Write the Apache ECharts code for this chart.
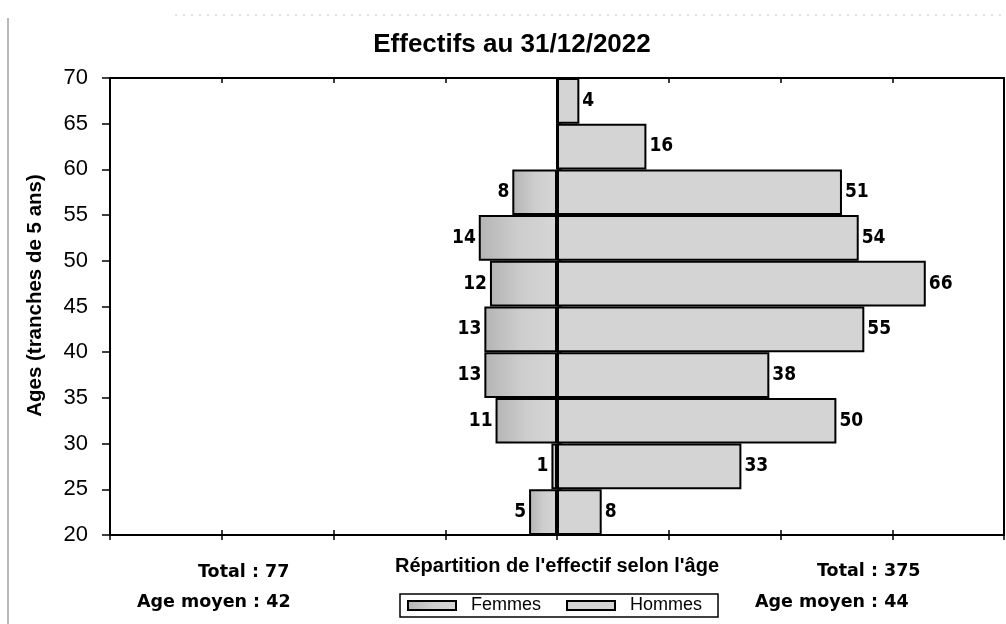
<!DOCTYPE html>
<html>
<head>
<meta charset="utf-8">
<script src="https://cdn.jsdelivr.net/npm/echarts@6/dist/echarts.min.js"></script>
<style>
  html, body { margin: 0; padding: 0; background: #fff; }
  #chart { width: 1006px; height: 624px; }
</style>
</head>
<body>
<div id="chart"></div>
<script>
// Age bands (5-year slices), bottom to top
const ageBands = ['20-25', '25-30', '30-35', '35-40', '40-45', '45-50', '50-55', '55-60', '60-65', '65-70'];
// Head count per band
const femmes = [5, 1, 11, 13, 13, 12, 14, 8, 0, 0];
const hommes = [8, 33, 50, 38, 55, 66, 54, 51, 16, 4];
// Average age: [femmes, hommes]
const ageMoyen = [42, 44];
// Age axis tick range
const ageTicks = [20, 25, 30, 35, 40, 45, 50, 55, 60, 65, 70];

const sum = arr => arr.reduce((a, b) => a + b, 0);

const chart = echarts.init(document.getElementById('chart'), null, { renderer: 'canvas' });

const black = '#000';
const valueFont = { fontFamily: '"DejaVu Sans Condensed", "DejaVu Sans"', fontWeight: 'bold', fontSize: 19, color: black };
const noteFont = 'bold 17.5px "DejaVu Sans"';

const gridLeft = 110, gridRight = 2, gridTop = 78, gridBottom = 89;

const femmesFill = new echarts.graphic.LinearGradient(0, 0, 1, 0, [
  { offset: 0, color: '#b4b4b4' },
  { offset: 0.5, color: '#cdcdcd' },
  { offset: 1, color: '#d6d6d6' }
]);
const hommesFill = '#d4d4d4';

const yMin = ageTicks[0], yMax = ageTicks[ageTicks.length - 1], yStep = ageTicks[1] - ageTicks[0];

chart.setOption({
  animation: false,
  backgroundColor: '#fff',
  grid: { left: gridLeft, right: gridRight, top: gridTop, bottom: gridBottom, containLabel: false },
  legend: {
    left: 400,
    top: 594,
    data: ['Femmes', 'Hommes'],
    itemWidth: 48,
    itemHeight: 9,
    itemGap: 25,
    padding: [2, 16, 2, 7],
    borderColor: black,
    borderWidth: 1.5,
    borderRadius: 0,
    icon: 'rect',
    textStyle: { fontFamily: 'Liberation Sans', fontSize: 18, lineHeight: 19, color: black, padding: [0, 0, 0, 10] }
  },
  xAxis: [
    {
      type: 'value', min: -80, max: 80, interval: 20, position: 'bottom',
      axisLine: { show: true, onZero: false, lineStyle: { color: black, width: 2 } },
      axisTick: { show: true, length: 5, lineStyle: { color: black, width: 1.5 } },
      axisLabel: { show: false },
      splitLine: { show: false },
      name: "Répartition de l'effectif selon l'âge",
      nameLocation: 'middle',
      nameGap: 21,
      nameTextStyle: { fontFamily: 'Liberation Sans', fontWeight: 'bold', fontSize: 20, color: black }
    },
    {
      type: 'value', min: -80, max: 80, interval: 20, position: 'bottom',
      axisLine: { show: false },
      axisTick: { show: true, inside: true, length: 5, lineStyle: { color: black, width: 1.5 } },
      axisLabel: { show: false },
      splitLine: { show: false }
    },
    {
      type: 'value', min: -80, max: 80, interval: 20, position: 'top',
      axisLine: { show: true, onZero: false, lineStyle: { color: black, width: 2 } },
      axisTick: { show: true, inside: true, length: 5, lineStyle: { color: black, width: 1.5 } },
      axisLabel: { show: false },
      splitLine: { show: false }
    }
  ],
  yAxis: [
    {
      type: 'category', data: ageBands, show: false
    },
    {
      type: 'value', min: yMin, max: yMax, interval: yStep, position: 'left',
      axisLine: { show: true, onZero: false, lineStyle: { color: black, width: 2 } },
      axisTick: { show: true, length: 8, lineStyle: { color: black, width: 1.5 } },
      axisLabel: { fontFamily: 'Liberation Sans', fontSize: 22, color: black, margin: 22 },
      splitLine: { show: false },
      name: 'Ages (tranches de 5 ans)',
      nameLocation: 'middle',
      nameRotate: 90,
      nameGap: 64,
      nameTextStyle: { fontFamily: 'Liberation Sans', fontWeight: 'bold', fontSize: 20.5, color: black, padding: [0, 0, 0, 22] }
    },
    {
      type: 'value', min: yMin, max: yMax, interval: yStep, position: 'left',
      axisLine: { show: false },
      axisTick: { show: true, inside: true, length: 5, lineStyle: { color: black, width: 1.5 } },
      axisLabel: { show: false },
      splitLine: { show: false }
    },
    {
      type: 'value', min: yMin, max: yMax, interval: yStep, position: 'right',
      axisLine: { show: true, onZero: false, lineStyle: { color: black, width: 2 } },
      axisTick: { show: false },
      axisLabel: { show: false },
      splitLine: { show: false }
    }
  ],
  series: [
    {
      name: 'Femmes',
      type: 'bar',
      xAxisIndex: 0,
      yAxisIndex: 0,
      data: femmes.map(v => -v),
      barWidth: '100%',
      barGap: '-100%',
      barCategoryGap: 0,
      itemStyle: { color: femmesFill, borderColor: black, borderWidth: 2 },
      label: {
        show: true,
        position: 'left',
        distance: 3,
        ...valueFont,
        formatter: p => (p.value === 0 ? '' : String(Math.abs(p.value)))
      }
    },
    {
      name: 'Hommes',
      type: 'bar',
      xAxisIndex: 0,
      yAxisIndex: 0,
      data: hommes,
      barWidth: '100%',
      barGap: '-100%',
      barCategoryGap: 0,
      itemStyle: { color: hommesFill, borderColor: black, borderWidth: 2 },
      label: {
        show: true,
        position: 'right',
        distance: 3,
        ...valueFont,
        formatter: p => (p.value === 0 ? '' : String(p.value))
      }
    }
  ],
  graphic: [
    // chart title
    { type: 'text', x: 512, y: 45, style: { text: 'Effectifs au 31/12/2022', font: 'bold 26px "Liberation Sans"', fill: black, textAlign: 'center', textVerticalAlign: 'middle' } },
    // page edge rule on the left
    { type: 'line', shape: { x1: 8, y1: 18, x2: 8, y2: 624 }, style: { stroke: '#8a8a8a', lineWidth: 1.2 } },
    { type: 'line', shape: { x1: 175, y1: 15, x2: 1006, y2: 15 }, style: { stroke: '#c8c8c8', lineWidth: 1, lineDash: [2, 6] } },
    // totals and averages under each half
    { type: 'text', x: 198, y: 572, style: { text: 'Total : ' + sum(femmes), font: noteFont, fill: black, textVerticalAlign: 'middle' } },
    { type: 'text', x: 137, y: 602, style: { text: 'Age moyen : ' + ageMoyen[0], font: noteFont, fill: black, textVerticalAlign: 'middle' } },
    { type: 'text', x: 817, y: 571, style: { text: 'Total : ' + sum(hommes), font: noteFont, fill: black, textVerticalAlign: 'middle' } },
    { type: 'text', x: 755, y: 602, style: { text: 'Age moyen : ' + ageMoyen[1], font: noteFont, fill: black, textVerticalAlign: 'middle' } }
  ]
});
</script>
</body>
</html>
